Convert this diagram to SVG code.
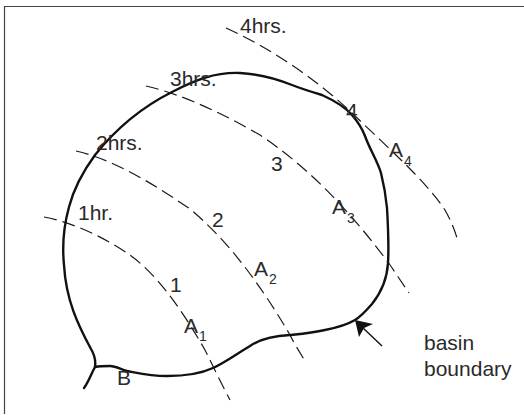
<svg xmlns="http://www.w3.org/2000/svg" width="524" height="415" viewBox="0 0 524 415">
<style>
text{font-family:"Liberation Sans",Arial,sans-serif;font-size:21px;fill:#2a2a2a}
.s{font-size:14px}
.i{fill:none;stroke:#1a1a1a;stroke-width:1.2;stroke-dasharray:13 6}
.b{fill:none;stroke:#111;stroke-width:2.4;stroke-linecap:round}
.f{fill:none;stroke:#444;stroke-width:1.2}
</style>
<rect width="524" height="415" fill="#fff"/>
<g id="frame"><path class="f" d="M524 6.500H4.500V414"/></g>
<g id="connectors">
<path id="iso1" class="i" d="M44 217C75 223 105 238 130 255C160 277 185 315 205 350C213 366 222 385 230 400"/>
<path id="iso2" class="i" d="M76 151C115 160 155 185 190 209C225 238 258 280 290 335C295 345 301 354 306 363"/>
<path id="iso3" class="i" d="M146 86C185 95 225 115 260 135C305 165 345 205 388 262C395 272 402 283 409 293"/>
<path id="iso4" class="i" d="M226 28C270 48 315 78 352 113C385 145 425 180 445 210C450 219 454 228 457 238"/>
<path id="leader" d="M382 346L362 327" fill="none" stroke="#111" stroke-width="1.4"/>
<path id="arrowhead" d="M355 320L373 324L364 328L359 337Z" fill="#111"/>
</g>
<g id="basin">
<path class="b" d="M95 367C96 360 94 354 91 349C78 325 66 300 64 265C62 245 64 225 69 207C74 188 84 170 95 155C115 130 140 108 172 92C195 80 215 72 240 73C258 74 275 78 292 85C302 89 312 92 322 95C333 100 345 107 352 115C358 122 362 128 365 136C370 150 377 160 381 173C384 185 386 197 387 208C388 225 389 245 388 263C387 280 380 294 372 304C365 312 360 317 355 320C345 326 335 328 325 330C312 333 300 334 290 335C272 336 260 339 250 346C238 353 226 362 213 368C200 374 185 376 167 376C150 376 138 373 127 371C120 369 116 366 110 366C105 366 100 366 95 367"/>
<path class="b" d="M95 367C91 374 89 381 84 388"/>
</g>
<g id="labels">
<text x="240" y="33">4hrs.</text>
<text x="170" y="86">3hrs.</text>
<text x="96" y="150">2hrs.</text>
<text x="78" y="220">1hr.</text>
<text x="170" y="292">1</text>
<text x="212" y="227">2</text>
<text x="271" y="171">3</text>
<text x="346" y="118">4</text>
<text x="184" y="333">A</text><text class="s" x="199" y="341">1</text>
<text x="254" y="276">A</text><text class="s" x="269" y="284">2</text>
<text x="332" y="214">A</text><text class="s" x="347" y="223">3</text>
<text x="389" y="157">A</text><text class="s" x="404" y="166">4</text>
<text x="117" y="385">B</text>
<text x="424" y="350">basin</text>
<text x="424" y="376">boundary</text>
</g>
</svg>
